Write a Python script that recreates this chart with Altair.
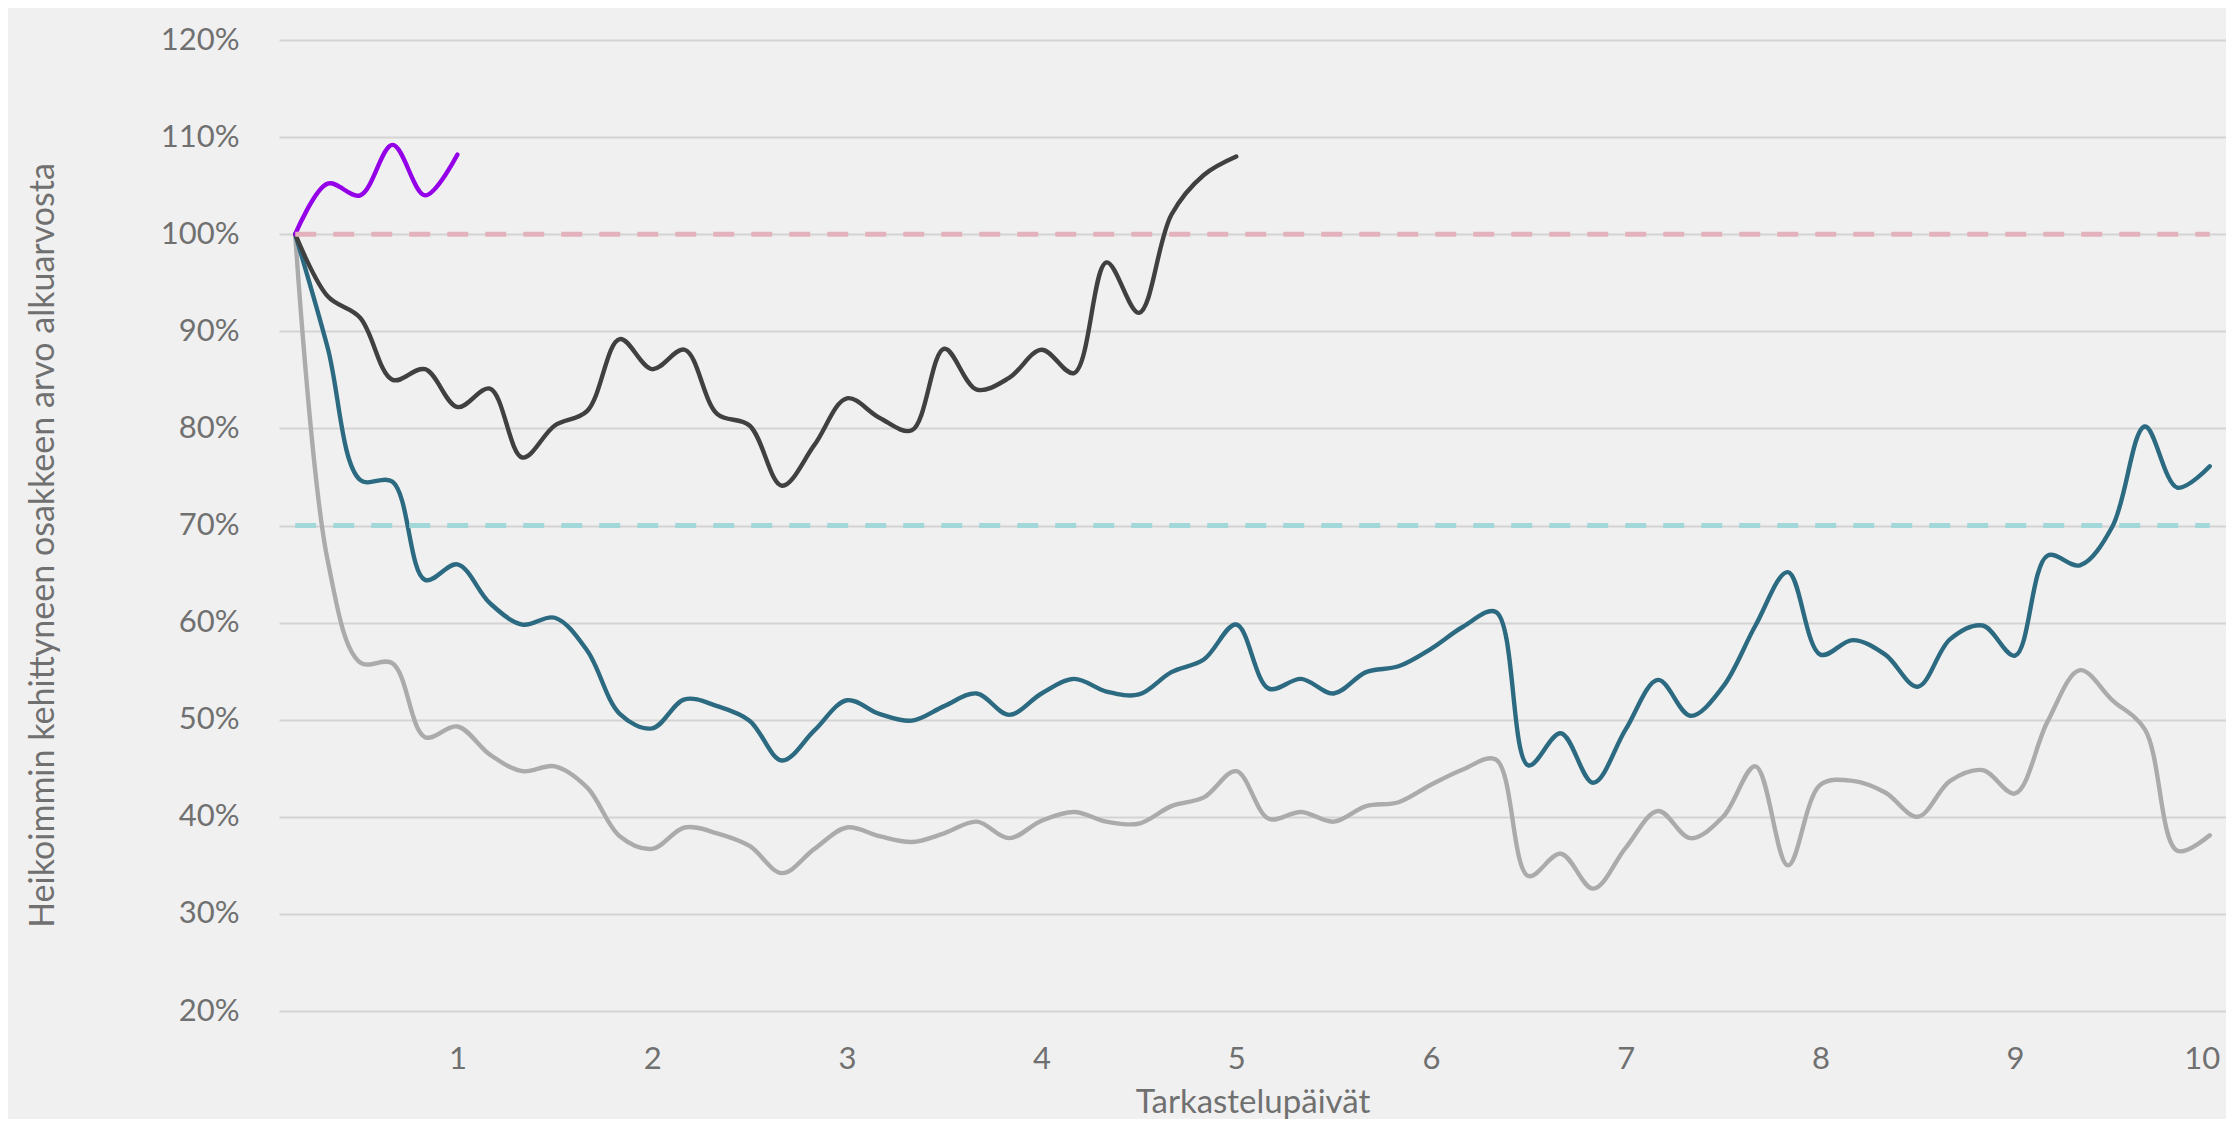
import altair as alt
import pandas as pd

# Observation index: 6 observations per day, 10 days
obs_index = list(range(1, 61))
day_tick_positions = [6, 12, 18, 24, 30, 36, 42, 48, 54, 60]
day_tick_labels = ["1", "2", "3", "4", "5", "6", "7", "8", "9", "10"]
y_ticks = [20, 30, 40, 50, 60, 70, 80, 90, 100, 110, 120]

# Values in percent of starting value
purple_vals = [100, 105.2, 104.0, 109.2, 104.0, 108.2]

black_vals = [100, 93.6, 91.4, 85.0, 86.1, 82.2, 84.1, 77.0, 80.3, 81.8,
              89.2, 86.1, 88.1, 81.5, 80.3, 74.1, 78.3, 83.1, 81.1, 79.8,
              88.2, 84.0, 85.2, 88.1, 85.7, 97.1, 91.9, 102.0, 106.1, 108.0]

teal_vals = [100, 88.3, 74.7, 74.5, 64.4, 66.0, 62.0, 59.8, 60.5, 57.1,
             50.6, 49.1, 52.1, 51.4, 49.9, 45.8, 48.9, 52.0, 50.6, 49.9,
             51.4, 52.7, 50.5, 52.7, 54.2, 52.9, 52.6, 54.9, 56.2, 59.8,
             53.2, 54.2, 52.7, 54.9, 55.5, 57.3, 59.6, 61.1, 45.3, 48.6,
             43.5, 49.0, 54.1, 50.4, 53.4, 59.7, 65.2, 56.7, 58.2, 56.7,
             53.4, 58.3, 59.7, 56.6, 66.9, 65.9, 69.9, 80.2, 73.9, 76.1]

grey_vals = [100, 66.4, 55.9, 55.8, 48.2, 49.3, 46.4, 44.7, 45.2, 43.0,
             38.0, 36.7, 38.9, 38.3, 37.0, 34.2, 36.7, 38.9, 38.0, 37.4,
             38.3, 39.5, 37.8, 39.6, 40.5, 39.5, 39.3, 41.1, 42.0, 44.7,
             39.8, 40.5, 39.5, 41.1, 41.5, 43.3, 44.9, 45.9, 33.9, 36.2,
             32.6, 36.8, 40.6, 37.8, 40.0, 45.2, 35.0, 43.3, 43.7, 42.5,
             40.0, 43.7, 44.8, 42.4, 49.8, 55.1, 52.0, 49.0, 36.5, 38.1]

series_names = ["harmaa", "sininen", "musta", "violetti"]
series_colors = ["#ABABAB", "#2B6A80", "#404040", "#9400E8"]
series_values = [grey_vals, teal_vals, black_vals, purple_vals]

ref_values = [100, 70]
ref_colors = ["#E2B3BC", "#A3D8DA"]

TEXT = "#707070"
FONT = "Lato"

rows = []
for name, vals in zip(series_names, series_values):
    for i, v in zip(obs_index, vals):
        rows.append({"idx": i, "value": v, "series": name})
df = pd.DataFrame(rows)

df_ref = pd.DataFrame({
    "y": ref_values,
    "start": [obs_index[0]] * len(ref_values),
    "end": [obs_index[-1]] * len(ref_values),
    "col": ref_colors,
})

label_map = "{" + ",".join(f"'{p}':'{l}'" for p, l in zip(day_tick_positions, day_tick_labels)) + "}"

x_scale = alt.Scale(domain=[0.5, 60.5], nice=False, zero=False)
y_scale = alt.Scale(domain=[20, 120], nice=False, zero=False)

x_axis = alt.Axis(
    values=day_tick_positions,
    labelExpr=f"{label_map}[datum.value]",
    title="Tarkastelupäivät",
    grid=False, domain=False, ticks=False,
    labelPadding=33, labelFontSize=31, labelFont=FONT, labelColor=TEXT,
    labelFlush=20, labelFlushOffset=10,
    titleFont=FONT, titleFontSize=33, titleFontWeight="normal", titleColor=TEXT,
    titleY=101, titleBaseline="alphabetic",
)
y_axis = alt.Axis(
    values=y_ticks,
    labelExpr="datum.value + '%'",
    title="Heikoimmin kehittyneen osakkeen arvo alkuarvosta",
    grid=True, gridColor="#D3D3D3", gridWidth=2,
    domain=False, ticks=False,
    labelPadding=40, labelFontSize=31, labelFont=FONT, labelColor=TEXT,
    labelFlush=False,
    titleFont=FONT, titleFontSize=34, titleFontWeight="normal", titleColor=TEXT,
    titleX=-226, titleY=505, titleBaseline="alphabetic",
)

lines = alt.Chart(df).mark_line(
    interpolate="catmull-rom", strokeWidth=4.4, strokeCap="round", strokeJoin="round"
).encode(
    x=alt.X("idx:Q", scale=x_scale, axis=x_axis),
    y=alt.Y("value:Q", scale=y_scale, axis=y_axis),
    color=alt.Color("series:N", scale=alt.Scale(domain=series_names, range=series_colors), legend=None),
    detail="series:N",
)

refs = alt.Chart(df_ref).mark_rule(strokeDash=[21, 17], strokeWidth=5).encode(
    x=alt.X("start:Q", scale=x_scale),
    x2="end:Q",
    y=alt.Y("y:Q", scale=y_scale),
    color=alt.Color("col:N", scale=None),
)

chart = alt.layer(lines, refs).resolve_scale(color="independent").properties(
    width=1947,
    height=971,
    padding={"left": 271, "top": 32, "right": 0, "bottom": 108},
    autosize=alt.AutoSizeParams(type="none"),
).configure(
    background="#F0F0F0",
).configure_view(stroke=None)

chart.save("out.html", embed_options={"renderer": "svg", "actions": False})
